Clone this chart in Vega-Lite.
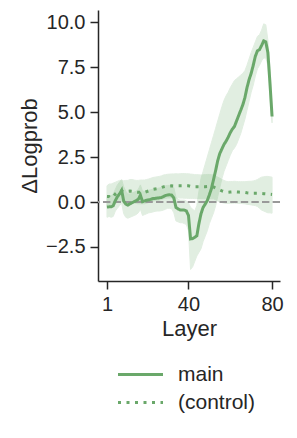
{
  "$schema": "https://vega.github.io/schema/vega-lite/v6.json",
  "width": 182,
  "height": 271,
  "autosize": {"type": "none"},
  "padding": {"left": 98, "top": 10, "right": 17, "bottom": 157},
  "config": {
    "font": "Liberation Sans",
    "view": {"stroke": null},
    "axis": {
      "grid": false,
      "labelFontSize": 20,
      "titleFontSize": 22,
      "titleFontWeight": "normal",
      "labelColor": "#262626",
      "titleColor": "#262626",
      "domainColor": "#262626",
      "tickColor": "#262626",
      "domainWidth": 1.5,
      "tickWidth": 1.5,
      "tickSize": 8,
      "labelPadding": 5
    }
  },
  "datasets": {
    "main": [
      {"layer":1,"v":-0.28,"lo":-0.85,"hi":0.3},{"layer":2,"v":-0.27,"lo":-0.8,"hi":0.3},{"layer":3,"v":-0.27,"lo":-0.85,"hi":0.35},{"layer":4,"v":-0.2,"lo":-0.8,"hi":0.45},{"layer":5,"v":0.08,"lo":-0.5,"hi":0.7},{"layer":6,"v":0.3,"lo":-0.35,"hi":0.95},{"layer":7,"v":0.45,"lo":-0.2,"hi":1.1},{"layer":8,"v":0.65,"lo":-0.05,"hi":1.25},{"layer":9,"v":0.05,"lo":-0.65,"hi":0.85},{"layer":10,"v":-0.12,"lo":-0.85,"hi":0.6},
      {"layer":11,"v":-0.17,"lo":-0.9,"hi":0.45},{"layer":12,"v":-0.1,"lo":-0.85,"hi":0.45},{"layer":13,"v":-0.04,"lo":-0.8,"hi":0.5},{"layer":14,"v":0.02,"lo":-0.75,"hi":0.55},{"layer":15,"v":0.08,"lo":-0.7,"hi":0.6},{"layer":16,"v":0.15,"lo":-0.6,"hi":0.7},{"layer":17,"v":0.38,"lo":-0.4,"hi":0.95},{"layer":18,"v":0.02,"lo":-0.75,"hi":0.6},{"layer":19,"v":0.06,"lo":-0.7,"hi":0.6},{"layer":20,"v":0.1,"lo":-0.65,"hi":0.65},
      {"layer":21,"v":0.12,"lo":-0.6,"hi":0.65},{"layer":22,"v":0.15,"lo":-0.58,"hi":0.68},{"layer":23,"v":0.19,"lo":-0.55,"hi":0.72},{"layer":24,"v":0.2,"lo":-0.52,"hi":0.72},{"layer":25,"v":0.22,"lo":-0.5,"hi":0.75},{"layer":26,"v":0.23,"lo":-0.5,"hi":0.78},{"layer":27,"v":0.25,"lo":-0.48,"hi":0.8},{"layer":28,"v":0.3,"lo":-0.45,"hi":0.85},{"layer":29,"v":0.36,"lo":-0.4,"hi":0.9},{"layer":30,"v":0.39,"lo":-0.35,"hi":0.92},
      {"layer":31,"v":0.4,"lo":-0.35,"hi":0.92},{"layer":32,"v":0.38,"lo":-0.38,"hi":0.9},{"layer":33,"v":0.22,"lo":-0.6,"hi":0.8},{"layer":34,"v":-0.3,"lo":-1.05,"hi":0.25},{"layer":35,"v":-0.38,"lo":-1.1,"hi":0.15},{"layer":36,"v":-0.44,"lo":-1.15,"hi":0.1},{"layer":37,"v":-0.44,"lo":-1.15,"hi":0.1},{"layer":38,"v":-0.45,"lo":-1.2,"hi":0.1},{"layer":39,"v":-0.5,"lo":-1.25,"hi":0.05},{"layer":40,"v":-0.75,"lo":-1.6,"hi":-0.05},
      {"layer":41,"v":-2.05,"lo":-3.75,"hi":-0.3},{"layer":42,"v":-2.03,"lo":-3.6,"hi":-0.4},{"layer":43,"v":-1.96,"lo":-3.3,"hi":-0.5},{"layer":44,"v":-1.88,"lo":-3.0,"hi":-0.2},{"layer":45,"v":-1.2,"lo":-2.8,"hi":0.6},{"layer":46,"v":-0.65,"lo":-2.6,"hi":1.3},{"layer":47,"v":-0.3,"lo":-2.2,"hi":1.7},{"layer":48,"v":-0.12,"lo":-1.9,"hi":2.1},{"layer":49,"v":0.08,"lo":-1.6,"hi":2.5},{"layer":50,"v":0.4,"lo":-1.2,"hi":2.9},
      {"layer":51,"v":0.75,"lo":-0.9,"hi":3.3},{"layer":52,"v":1.25,"lo":-0.6,"hi":3.7},{"layer":53,"v":1.75,"lo":-0.2,"hi":4.1},{"layer":54,"v":2.3,"lo":0.3,"hi":4.5},{"layer":55,"v":2.7,"lo":0.8,"hi":4.9},{"layer":56,"v":2.95,"lo":1.3,"hi":5.3},{"layer":57,"v":3.2,"lo":1.7,"hi":5.65},{"layer":58,"v":3.38,"lo":2.0,"hi":5.9},{"layer":59,"v":3.6,"lo":2.3,"hi":6.1},{"layer":60,"v":3.85,"lo":2.6,"hi":6.35},
      {"layer":61,"v":4.05,"lo":2.85,"hi":6.55},{"layer":62,"v":4.2,"lo":3.0,"hi":6.75},{"layer":63,"v":4.5,"lo":3.2,"hi":6.85},{"layer":64,"v":4.8,"lo":3.5,"hi":6.95},{"layer":65,"v":5.1,"lo":3.8,"hi":7.05},{"layer":66,"v":5.4,"lo":4.2,"hi":7.15},{"layer":67,"v":5.8,"lo":4.6,"hi":7.3},{"layer":68,"v":6.35,"lo":5.1,"hi":7.6},{"layer":69,"v":6.8,"lo":5.6,"hi":7.95},{"layer":70,"v":7.15,"lo":6.1,"hi":8.3},
      {"layer":71,"v":7.6,"lo":6.5,"hi":8.6},{"layer":72,"v":8.1,"lo":7.0,"hi":8.9},{"layer":73,"v":8.4,"lo":7.4,"hi":9.2},{"layer":74,"v":8.47,"lo":7.6,"hi":9.3},{"layer":75,"v":8.7,"lo":7.85,"hi":9.55},{"layer":76,"v":8.95,"lo":8.0,"hi":9.9},{"layer":77,"v":8.9,"lo":8.0,"hi":9.85},{"layer":78,"v":8.3,"lo":7.6,"hi":9.0},{"layer":79,"v":6.6,"lo":5.9,"hi":7.4},{"layer":80,"v":4.75,"lo":4.4,"hi":5.1}
    ],
    "control": [
      {"layer":1,"v":0.3,"lo":-0.3,"hi":0.9},{"layer":2,"v":0.3,"lo":-0.25,"hi":1.0},{"layer":3,"v":0.22,"lo":-0.3,"hi":1.0},{"layer":4,"v":0.3,"lo":-0.2,"hi":1.05},{"layer":5,"v":0.45,"lo":-0.1,"hi":1.1},{"layer":6,"v":0.55,"lo":0.0,"hi":1.15},{"layer":7,"v":0.65,"lo":0.1,"hi":1.2},{"layer":8,"v":0.62,"lo":0.05,"hi":1.2},{"layer":9,"v":0.58,"lo":0.0,"hi":1.18},{"layer":10,"v":0.6,"lo":0.0,"hi":1.2},
      {"layer":11,"v":0.6,"lo":0.0,"hi":1.2},{"layer":12,"v":0.61,"lo":0.0,"hi":1.25},{"layer":13,"v":0.6,"lo":-0.02,"hi":1.25},{"layer":14,"v":0.58,"lo":-0.05,"hi":1.22},{"layer":15,"v":0.55,"lo":-0.08,"hi":1.2},{"layer":16,"v":0.54,"lo":-0.1,"hi":1.2},{"layer":17,"v":0.55,"lo":-0.1,"hi":1.22},{"layer":18,"v":0.55,"lo":-0.1,"hi":1.22},{"layer":19,"v":0.54,"lo":-0.1,"hi":1.22},{"layer":20,"v":0.58,"lo":-0.07,"hi":1.25},
      {"layer":21,"v":0.62,"lo":-0.03,"hi":1.28},{"layer":22,"v":0.66,"lo":0.0,"hi":1.32},{"layer":23,"v":0.7,"lo":0.05,"hi":1.36},{"layer":24,"v":0.72,"lo":0.07,"hi":1.38},{"layer":25,"v":0.74,"lo":0.08,"hi":1.4},{"layer":26,"v":0.76,"lo":0.1,"hi":1.42},{"layer":27,"v":0.8,"lo":0.14,"hi":1.45},{"layer":28,"v":0.84,"lo":0.18,"hi":1.5},{"layer":29,"v":0.87,"lo":0.2,"hi":1.52},{"layer":30,"v":0.89,"lo":0.22,"hi":1.54},
      {"layer":31,"v":0.89,"lo":0.22,"hi":1.55},{"layer":32,"v":0.9,"lo":0.23,"hi":1.56},{"layer":33,"v":0.89,"lo":0.22,"hi":1.56},{"layer":34,"v":0.9,"lo":0.22,"hi":1.57},{"layer":35,"v":0.9,"lo":0.23,"hi":1.56},{"layer":36,"v":0.9,"lo":0.22,"hi":1.57},{"layer":37,"v":0.9,"lo":0.22,"hi":1.58},{"layer":38,"v":0.9,"lo":0.21,"hi":1.58},{"layer":39,"v":0.9,"lo":0.21,"hi":1.57},{"layer":40,"v":0.9,"lo":0.2,"hi":1.57},
      {"layer":41,"v":0.87,"lo":0.2,"hi":1.55},{"layer":42,"v":0.86,"lo":0.2,"hi":1.54},{"layer":43,"v":0.85,"lo":0.19,"hi":1.52},{"layer":44,"v":0.85,"lo":0.19,"hi":1.52},{"layer":45,"v":0.85,"lo":0.2,"hi":1.51},{"layer":46,"v":0.85,"lo":0.19,"hi":1.5},{"layer":47,"v":0.85,"lo":0.19,"hi":1.51},{"layer":48,"v":0.85,"lo":0.18,"hi":1.52},{"layer":49,"v":0.86,"lo":0.19,"hi":1.53},{"layer":50,"v":0.86,"lo":0.19,"hi":1.53},
      {"layer":51,"v":0.85,"lo":0.18,"hi":1.52},{"layer":52,"v":0.84,"lo":0.18,"hi":1.5},{"layer":53,"v":0.78,"lo":0.12,"hi":1.45},{"layer":54,"v":0.72,"lo":0.06,"hi":1.38},{"layer":55,"v":0.67,"lo":0.0,"hi":1.32},{"layer":56,"v":0.62,"lo":-0.03,"hi":1.25},{"layer":57,"v":0.58,"lo":-0.06,"hi":1.2},{"layer":58,"v":0.55,"lo":-0.08,"hi":1.15},{"layer":59,"v":0.54,"lo":-0.08,"hi":1.13},{"layer":60,"v":0.55,"lo":-0.07,"hi":1.14},
      {"layer":61,"v":0.56,"lo":-0.07,"hi":1.14},{"layer":62,"v":0.57,"lo":-0.06,"hi":1.15},{"layer":63,"v":0.56,"lo":-0.07,"hi":1.14},{"layer":64,"v":0.55,"lo":-0.08,"hi":1.13},{"layer":65,"v":0.54,"lo":-0.08,"hi":1.13},{"layer":66,"v":0.54,"lo":-0.09,"hi":1.13},{"layer":67,"v":0.53,"lo":-0.1,"hi":1.13},{"layer":68,"v":0.51,"lo":-0.13,"hi":1.14},{"layer":69,"v":0.5,"lo":-0.14,"hi":1.15},{"layer":70,"v":0.48,"lo":-0.16,"hi":1.15},
      {"layer":71,"v":0.48,"lo":-0.18,"hi":1.17},{"layer":72,"v":0.48,"lo":-0.2,"hi":1.2},{"layer":73,"v":0.48,"lo":-0.25,"hi":1.25},{"layer":74,"v":0.48,"lo":-0.35,"hi":1.32},{"layer":75,"v":0.47,"lo":-0.45,"hi":1.38},{"layer":76,"v":0.46,"lo":-0.5,"hi":1.4},{"layer":77,"v":0.45,"lo":-0.55,"hi":1.42},{"layer":78,"v":0.43,"lo":-0.6,"hi":1.42},{"layer":79,"v":0.43,"lo":-0.6,"hi":1.4},{"layer":80,"v":0.42,"lo":-0.62,"hi":1.38}
    ]
  },
  "layer": [
    {
      "data": {"name": "main"},
      "mark": {"type": "area", "color": "#6eae6e", "opacity": 0.2, "stroke": "#6eae6e", "strokeWidth": 1},
      "encoding": {
        "x": {"field": "layer", "type": "quantitative", "scale": {"domain": [-3.3, 83.8], "nice": false, "zero": false},
              "axis": {"values": [1, 40, 80], "title": "Layer", "titlePadding": 4}},
        "y": {"field": "lo", "type": "quantitative", "scale": {"domain": [-4.39, 10.67], "nice": false, "zero": false},
              "title": "ΔLogprob", "axis": {"values": [-2.5, 0, 2.5, 5, 7.5, 10], "format": ".1f", "titlePadding": 4}},
        "y2": {"field": "hi"}
      }
    },
    {
      "data": {"name": "control"},
      "mark": {"type": "area", "color": "#6eae6e", "opacity": 0.2, "stroke": "#6eae6e", "strokeWidth": 1},
      "encoding": {
        "x": {"field": "layer", "type": "quantitative"},
        "y": {"field": "lo", "type": "quantitative", "title": "ΔLogprob"},
        "y2": {"field": "hi"}
      }
    },
    {
      "data": {"values": [{"zero": 0}]},
      "mark": {"type": "rule", "color": "#999999", "strokeWidth": 2, "strokeDash": [7.4, 3.2]},
      "encoding": {
        "y": {"field": "zero", "type": "quantitative", "title": "ΔLogprob"}
      }
    },
    {
      "data": {"name": "control"},
      "transform": [{"calculate": "'(control)'", "as": "series"}],
      "mark": {"type": "line", "color": "#6aa86a", "strokeWidth": 3},
      "encoding": {
        "x": {"field": "layer", "type": "quantitative"},
        "y": {"field": "v", "type": "quantitative", "title": "ΔLogprob"},
        "strokeDash": {"field": "series", "type": "nominal",
          "scale": {"domain": ["main", "(control)"], "range": [[1, 0], [3, 5.5]]},
          "legend": {"title": null, "orient": "none", "legendX": 32, "legendY": 354,
            "symbolType": "M-5,0H5", "symbolSize": 81, "symbolStrokeWidth": 3, "symbolStrokeColor": "#6aa86a", "symbolFillColor": "transparent",
            "labelFontSize": 21, "labelColor": "#262626", "labelOffset": 27, "rowPadding": 6, "padding": 0}}
      }
    },
    {
      "data": {"name": "main"},
      "transform": [{"calculate": "'main'", "as": "series"}],
      "mark": {"type": "line", "color": "#6aa86a", "strokeWidth": 3},
      "encoding": {
        "x": {"field": "layer", "type": "quantitative"},
        "y": {"field": "v", "type": "quantitative", "title": "ΔLogprob"},
        "strokeDash": {"field": "series", "type": "nominal"}
      }
    }
  ]
}
